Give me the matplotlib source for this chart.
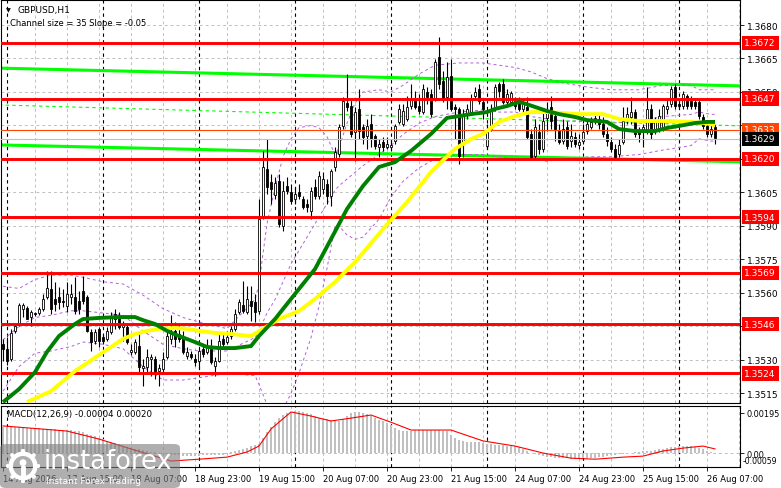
import matplotlib
matplotlib.use("Agg")
import matplotlib.pyplot as plt
import matplotlib.transforms as mtransforms
from matplotlib.patches import FancyBboxPatch, Circle
import numpy as np

plt.rcParams["font.family"] = "DejaVu Sans"

# GBPUSD H1 candles, one value per bar (bar 0 = 14 Aug 23:00)
opens = [
    1.35372, 1.35349, 1.35304, 1.35430, 1.35461, 1.35528, 1.35533, 1.35492, 1.35510, 1.35510,
    1.35528, 1.35582, 1.35618, 1.35573, 1.35582, 1.35564, 1.35542, 1.35582, 1.35582, 1.35564,
    1.35609, 1.35582, 1.35425, 1.35385, 1.35439, 1.35403, 1.35394, 1.35425, 1.35506, 1.35488,
    1.35448, 1.35448, 1.35336, 1.35336, 1.35363, 1.35264, 1.35268, 1.35304, 1.35304, 1.35251,
    1.35260, 1.35313, 1.35394, 1.35430, 1.35416, 1.35403, 1.35318, 1.35327, 1.35304, 1.35295,
    1.35349, 1.35336, 1.35349, 1.35273, 1.35295, 1.35394, 1.35381, 1.35407, 1.35439, 1.35515,
    1.35546, 1.35515, 1.35564, 1.35560, 1.35519, 1.35945, 1.36155, 1.36097, 1.36039, 1.36101,
    1.35900, 1.36079, 1.36052, 1.36021, 1.36052, 1.36021, 1.35998, 1.35967, 1.36075, 1.36034,
    1.36066, 1.36088, 1.36034, 1.36164, 1.36222, 1.36348, 1.36451, 1.36437, 1.36321, 1.36424,
    1.36343, 1.36303, 1.36357, 1.36303, 1.36254, 1.36276, 1.36254, 1.36254, 1.36281, 1.36366,
    1.36357, 1.36379, 1.36437, 1.36469, 1.36437, 1.36410, 1.36500, 1.36491, 1.36469, 1.36657,
    1.36549, 1.36478, 1.36572, 1.36433, 1.36424, 1.36276, 1.36401, 1.36410, 1.36482, 1.36513,
    1.36455, 1.36258, 1.36334, 1.36424, 1.36536, 1.36536, 1.36455, 1.36455, 1.36460, 1.36455,
    1.36424, 1.36433, 1.36312, 1.36213, 1.36321, 1.36245, 1.36384, 1.36433, 1.36392, 1.36325,
    1.36281, 1.36343, 1.36281, 1.36298, 1.36263, 1.36281, 1.36325, 1.36343, 1.36370, 1.36379,
    1.36357, 1.36312, 1.36276, 1.36245, 1.36222, 1.36276, 1.36379, 1.36388, 1.36410, 1.36325,
    1.36321, 1.36321, 1.36424, 1.36334, 1.36334, 1.36334, 1.36424, 1.36446, 1.36522, 1.36446,
    1.36437, 1.36482, 1.36460, 1.36455, 1.36455, 1.36388, 1.36348, 1.36312, 1.36343,
]
highs = [
    1.35394, 1.35403, 1.35439, 1.35461, 1.35555, 1.35555, 1.35542, 1.35524, 1.35515, 1.35537,
    1.35595, 1.35698, 1.35698, 1.35649, 1.35627, 1.35618, 1.35649, 1.35640, 1.35672, 1.35609,
    1.35676, 1.35591, 1.35439, 1.35439, 1.35448, 1.35416, 1.35448, 1.35515, 1.35528, 1.35515,
    1.35474, 1.35461, 1.35372, 1.35394, 1.35416, 1.35304, 1.35349, 1.35327, 1.35318, 1.35282,
    1.35336, 1.35425, 1.35501, 1.35470, 1.35461, 1.35430, 1.35358, 1.35340, 1.35327, 1.35349,
    1.35372, 1.35394, 1.35394, 1.35313, 1.35425, 1.35416, 1.35430, 1.35452, 1.35528, 1.35573,
    1.35654, 1.35631, 1.35631, 1.35595, 1.36021, 1.36236, 1.36289, 1.36133, 1.36119, 1.36133,
    1.36101, 1.36119, 1.36088, 1.36075, 1.36088, 1.36034, 1.36021, 1.36075, 1.36110, 1.36146,
    1.36142, 1.36110, 1.36155, 1.36254, 1.36357, 1.36478, 1.36581, 1.36469, 1.36433, 1.36513,
    1.36357, 1.36379, 1.36401, 1.36312, 1.36289, 1.36298, 1.36298, 1.36289, 1.36357, 1.36446,
    1.36446, 1.36482, 1.36536, 1.36504, 1.36491, 1.36536, 1.36522, 1.36513, 1.36648, 1.36746,
    1.36594, 1.36634, 1.36648, 1.36446, 1.36433, 1.36424, 1.36446, 1.36491, 1.36522, 1.36536,
    1.36469, 1.36357, 1.36446, 1.36536, 1.36545, 1.36558, 1.36513, 1.36504, 1.36478, 1.36478,
    1.36469, 1.36478, 1.36334, 1.36379, 1.36357, 1.36415, 1.36455, 1.36482, 1.36415, 1.36357,
    1.36379, 1.36370, 1.36357, 1.36321, 1.36312, 1.36357, 1.36379, 1.36388, 1.36401, 1.36401,
    1.36388, 1.36343, 1.36298, 1.36267, 1.36289, 1.36433, 1.36433, 1.36478, 1.36424, 1.36343,
    1.36357, 1.36522, 1.36446, 1.36388, 1.36424, 1.36446, 1.36469, 1.36527, 1.36536, 1.36469,
    1.36504, 1.36491, 1.36482, 1.36469, 1.36469, 1.36401, 1.36357, 1.36357, 1.36357,
]
lows = [
    1.35295, 1.35277, 1.35295, 1.35421, 1.35452, 1.35492, 1.35483, 1.35452, 1.35497, 1.35501,
    1.35519, 1.35573, 1.35506, 1.35519, 1.35528, 1.35537, 1.35515, 1.35551, 1.35506, 1.35506,
    1.35551, 1.35425, 1.35340, 1.35372, 1.35358, 1.35372, 1.35385, 1.35416, 1.35439, 1.35439,
    1.35385, 1.35372, 1.35322, 1.35327, 1.35246, 1.35183, 1.35237, 1.35228, 1.35215, 1.35183,
    1.35237, 1.35304, 1.35372, 1.35358, 1.35381, 1.35327, 1.35304, 1.35304, 1.35273, 1.35260,
    1.35313, 1.35327, 1.35282, 1.35228, 1.35291, 1.35349, 1.35372, 1.35394, 1.35430, 1.35506,
    1.35510, 1.35506, 1.35474, 1.35470, 1.35506, 1.35931, 1.36043, 1.35998, 1.36021, 1.35895,
    1.35878, 1.36043, 1.35998, 1.35998, 1.36021, 1.35976, 1.35963, 1.35931, 1.36021, 1.36021,
    1.36043, 1.35998, 1.35989, 1.36146, 1.36209, 1.36334, 1.36415, 1.36298, 1.36191, 1.36289,
    1.36267, 1.36245, 1.36254, 1.36245, 1.36209, 1.36236, 1.36245, 1.36236, 1.36267, 1.36357,
    1.36348, 1.36370, 1.36424, 1.36424, 1.36401, 1.36401, 1.36446, 1.36388, 1.36460, 1.36513,
    1.36455, 1.36424, 1.36415, 1.36289, 1.36178, 1.36209, 1.36379, 1.36401, 1.36469, 1.36446,
    1.36379, 1.36245, 1.36325, 1.36415, 1.36478, 1.36446, 1.36433, 1.36442, 1.36424, 1.36415,
    1.36410, 1.36289, 1.36200, 1.36200, 1.36222, 1.36231, 1.36325, 1.36334, 1.36281, 1.36267,
    1.36267, 1.36245, 1.36254, 1.36254, 1.36245, 1.36267, 1.36312, 1.36334, 1.36357, 1.36334,
    1.36298, 1.36258, 1.36231, 1.36200, 1.36209, 1.36267, 1.36357, 1.36357, 1.36298, 1.36276,
    1.36254, 1.36312, 1.36289, 1.36312, 1.36321, 1.36325, 1.36401, 1.36433, 1.36424, 1.36424,
    1.36424, 1.36424, 1.36424, 1.36424, 1.36379, 1.36334, 1.36298, 1.36298, 1.36267,
]
closes = [
    1.35349, 1.35295, 1.35421, 1.35452, 1.35546, 1.35546, 1.35483, 1.35515, 1.35506, 1.35528,
    1.35573, 1.35622, 1.35528, 1.35551, 1.35560, 1.35560, 1.35595, 1.35595, 1.35519, 1.35528,
    1.35564, 1.35430, 1.35381, 1.35425, 1.35385, 1.35385, 1.35430, 1.35492, 1.35483, 1.35448,
    1.35457, 1.35381, 1.35345, 1.35381, 1.35268, 1.35273, 1.35313, 1.35313, 1.35237, 1.35264,
    1.35304, 1.35407, 1.35416, 1.35394, 1.35394, 1.35336, 1.35336, 1.35313, 1.35291, 1.35340,
    1.35327, 1.35358, 1.35291, 1.35295, 1.35385, 1.35372, 1.35403, 1.35439, 1.35506, 1.35560,
    1.35519, 1.35573, 1.35542, 1.35515, 1.35931, 1.36164, 1.36075, 1.36066, 1.36092, 1.35909,
    1.36057, 1.36057, 1.36012, 1.36043, 1.36034, 1.35985, 1.35985, 1.36057, 1.36034, 1.36124,
    1.36110, 1.36034, 1.36146, 1.36231, 1.36343, 1.36460, 1.36433, 1.36312, 1.36410, 1.36325,
    1.36298, 1.36348, 1.36289, 1.36258, 1.36267, 1.36254, 1.36267, 1.36263, 1.36348, 1.36424,
    1.36415, 1.36433, 1.36469, 1.36433, 1.36415, 1.36513, 1.36478, 1.36401, 1.36634, 1.36536,
    1.36469, 1.36567, 1.36424, 1.36424, 1.36213, 1.36401, 1.36424, 1.36469, 1.36500, 1.36460,
    1.36424, 1.36321, 1.36424, 1.36522, 1.36504, 1.36455, 1.36491, 1.36495, 1.36437, 1.36424,
    1.36446, 1.36298, 1.36209, 1.36343, 1.36245, 1.36370, 1.36410, 1.36370, 1.36334, 1.36276,
    1.36334, 1.36258, 1.36303, 1.36267, 1.36276, 1.36321, 1.36357, 1.36366, 1.36384, 1.36357,
    1.36312, 1.36281, 1.36245, 1.36209, 1.36263, 1.36370, 1.36401, 1.36410, 1.36312, 1.36312,
    1.36343, 1.36424, 1.36312, 1.36370, 1.36392, 1.36437, 1.36437, 1.36513, 1.36437, 1.36437,
    1.36491, 1.36437, 1.36437, 1.36437, 1.36392, 1.36348, 1.36312, 1.36334, 1.36294,
]

# time axis
label_idx = [0, 16, 32, 48, 64, 80, 96, 112, 128, 144, 160, 176]
time_labels = ["14 Aug 2026", "17 Aug 15:00", "18 Aug 07:00", "18 Aug 23:00",
               "19 Aug 15:00", "20 Aug 07:00", "20 Aug 23:00", "21 Aug 15:00",
               "24 Aug 07:00", "24 Aug 23:00", "25 Aug 15:00", "26 Aug 07:00"]
day_sep_idx = [1, 25, 49, 73, 97, 121, 145, 169]

# levels
red_levels = [1.3672, 1.3647, 1.3620, 1.3594, 1.3569, 1.3546, 1.3524]
ask_price = 1.3633
bid_price = 1.3629
price_ticks = [1.3515, 1.3530, 1.3545, 1.3560, 1.3575, 1.3590,
               1.3605, 1.3620, 1.3635, 1.3650, 1.3665, 1.3680]

# moving averages (read at sample bars)
ma_green_idx = [0, 4, 8, 11, 14, 18, 20, 24, 29, 33, 35, 38, 41, 44, 48, 51, 54, 58, 62, 64,
                68, 74, 78, 82, 86, 90, 94, 98, 102, 107, 111, 114, 117, 121, 123, 126, 129, 130,
                133, 136, 139, 143, 146, 151, 154, 158, 163, 166, 169, 173, 176, 178]
ma_green = [1.35111, 1.35169, 1.35245, 1.35336, 1.35407, 1.35461, 1.35483, 1.35488, 1.35492, 1.35492,
            1.35478, 1.35461, 1.35430, 1.35407, 1.35380, 1.35358, 1.35353, 1.35353, 1.35362, 1.35407,
            1.35483, 1.35618, 1.35707, 1.35841, 1.35976, 1.36079, 1.36164, 1.36186, 1.36236, 1.36312,
            1.36384, 1.36392, 1.36401, 1.36410, 1.36424, 1.36437, 1.36455, 1.36451, 1.36433, 1.36415,
            1.36401, 1.36388, 1.36374, 1.36366, 1.36334, 1.36325, 1.36325, 1.36339, 1.36348, 1.36361,
            1.36366, 1.36366]
ma_yellow_idx = [6, 12, 18, 24, 30, 33, 36, 39, 43, 46, 49, 53, 57, 62, 65, 69, 74, 78, 83, 88,
                 95, 101, 107, 113, 117, 120, 124, 128, 132, 136, 144, 150, 154, 159, 166, 172, 177, 178]
ma_yellow = [1.35111, 1.35160, 1.35250, 1.35322, 1.35394, 1.35416, 1.35430, 1.35439, 1.35443, 1.35439,
             1.35430, 1.35421, 1.35416, 1.35407, 1.35439, 1.35483, 1.35519, 1.35573, 1.35649, 1.35738,
             1.35886, 1.36007, 1.36142, 1.36245, 1.36289, 1.36312, 1.36366, 1.36392, 1.36410, 1.36410,
             1.36401, 1.36401, 1.36379, 1.36370, 1.36370, 1.36366, 1.36357, 1.36348]

# bollinger bands (read at sample bars)
bb_idx = [0, 4, 8, 12, 17, 20, 25, 30, 35, 40, 45, 49, 56, 63, 64, 66, 68, 70, 72, 74,
          77, 79, 81, 83, 84, 86, 88, 90, 94, 97, 100, 104, 108, 114, 120, 124, 128, 132, 136, 140,
          147, 152, 159, 165, 172, 174, 177, 178]
bb_upper = [1.3563, 1.3562, 1.3566, 1.3568, 1.3568, 1.3567, 1.3565, 1.3564, 1.3559, 1.3553,
            1.3549, 1.3547, 1.3544, 1.3557, 1.3564, 1.3591, 1.3607, 1.3621, 1.3629, 1.3634,
            1.3635, 1.3634, 1.3630, 1.3622, 1.3625, 1.3636, 1.3645, 1.3650, 1.3651, 1.3650,
            1.3653, 1.3658, 1.3662, 1.3663, 1.3663, 1.3662, 1.3661, 1.3659, 1.3656, 1.3654,
            1.3652, 1.3651, 1.3651, 1.3653, 1.3653, 1.3651, 1.3651, 1.3651]
bb_middle = [1.3539, 1.3545, 1.3549, 1.3550, 1.3552, 1.3552, 1.3551, 1.3550, 1.3543, 1.3537,
             1.3535, 1.3534, 1.3534, 1.3540, 1.3543, 1.3551, 1.3557, 1.3565, 1.3573, 1.3579,
             1.3588, 1.3594, 1.3600, 1.3606, 1.3608, 1.3611, 1.3614, 1.3617, 1.3622, 1.3626,
             1.3631, 1.3636, 1.3639, 1.3641, 1.3642, 1.3641, 1.3641, 1.3639, 1.3638, 1.3637,
             1.3637, 1.3636, 1.3637, 1.3639, 1.3640, 1.3641, 1.3640, 1.3640]
bb_lower = [1.3516, 1.3527, 1.3533, 1.3534, 1.3536, 1.3538, 1.3537, 1.3535, 1.3527, 1.3521,
            1.3521, 1.3522, 1.3524, 1.3523, 1.3519, 1.3510, 1.3508, 1.3508, 1.3515, 1.3524,
            1.3540, 1.3554, 1.3571, 1.3590, 1.3590, 1.3586, 1.3584, 1.3585, 1.3593, 1.3603,
            1.3610, 1.3616, 1.3620, 1.3622, 1.3622, 1.3621, 1.3620, 1.3620, 1.3619, 1.3620,
            1.3621, 1.3621, 1.3622, 1.3624, 1.3626, 1.3629, 1.3628, 1.3628]

# regression channel end points
channel_idx = [-1, 185]
channel_upper = [1.36607, 1.36527]
channel_middle = [1.36442, 1.36348]
channel_lower = [1.36263, 1.36187]

# MACD(12,26,9), in units of 1e-5
macd_hist = np.array([
    127, 128, 128, 127, 126, 125, 124, 123, 122, 120,
    118, 117, 116, 115, 114, 113, 112, 110, 108, 105,
    100, 95, 88, 82, 75, 67, 60, 54, 48, 42,
    36, 30, 26, 22, 18, 14, 10, 6, 3, 0,
    -2, -3, -8, -10, -12, -14, -15, -15, -14, -13,
    -12, -12, -11, -10, -9, -8, -3, 3, 10, 15,
    20, 25, 32, 38, 45, 75, 100, 125, 150, 170,
    185, 195, 200, 205, 205, 200, 195, 188, 180, 172,
    168, 165, 160, 158, 156, 165, 180, 195, 200, 198,
    195, 190, 182, 172, 163, 155, 148, 135, 122, 112,
    108, 107, 108, 110, 112, 112, 113, 112, 112, 110,
    108, 105, 90, 75, 65, 58, 54, 52, 52, 53,
    50, 45, 42, 40, 40, 38, 36, 34, 32, 28,
    22, 12, 2, -6, -12, -16, -18, -20, -22, -24,
    -25, -26, -27, -27, -27, -26, -25, -24, -22, -20,
    -18, -15, -12, -9, -6, -3, 0, 2, 4, 6,
    8, 10, 12, 15, 18, 22, 25, 28, 30, 32,
    33, 34, 33, 30, 26, 20, 12, 4, -4,
]) * 1e-5
signal_idx = [0, 16, 24, 32, 42, 49, 56, 61, 64, 67, 72, 77, 82, 87, 92, 97, 102, 112, 120,
              128, 135, 142, 148, 155, 160, 165, 170, 175, 178]
signal_vals = np.array([132, 107, 68, 20, -39, -30, -20, 5, 34, 117, 200, 180, 156, 170, 185,
                        150, 112, 112, 59, 34, 0, -25, -30, -20, -15, 10, 24, 34, 20]) * 1e-5

W, H = 781, 489
fig = plt.figure(figsize=(W / 100, H / 100), dpi=100)
fig.patch.set_facecolor("white")


def fx(px):
    return px / W


def fy(py):
    return 1 - py / H


ax = fig.add_axes([fx(1), fy(404), fx(740) - fx(1), fy(1) - fy(404)])
ax2 = fig.add_axes([fx(1), fy(468), fx(740) - fx(1), fy(407) - fy(468)])

dash = (0, (3, 3))
grid_c = "#c0c0c0"

# grid and day separators
for a in (ax, ax2):
    for gx in range(8, 185, 8):
        a.axvline(gx, color=grid_c, lw=0.7, ls=dash, zorder=0)
    for sx in day_sep_idx:
        a.axvline(sx, color="black", lw=0.8, ls=dash, zorder=0.5)
    for s in a.spines.values():
        s.set_linewidth(0.8)
for p in price_ticks:
    ax.axhline(p, color=grid_c, lw=0.7, ls=dash, zorder=0)

# channel
ax.plot(channel_idx, channel_upper, color="#00ff00", lw=2.2, zorder=1)
ax.plot(channel_idx, channel_lower, color="#00ff00", lw=2.2, zorder=1)
ax.plot(channel_idx, channel_middle, color="#00ff00", lw=0.8, ls=dash, zorder=1)

# bollinger bands
for band in (bb_upper, bb_middle, bb_lower):
    ax.plot(bb_idx, band, color="#b45ee0", lw=0.7, ls=dash, zorder=1.5)

# candles
idx = np.arange(len(closes))
o = np.array(opens)
c = np.array(closes)
ax.vlines(idx, lows, highs, color="black", lw=0.8, zorder=2)
body_fc = ["black" if cc < oo else "white" for oo, cc in zip(o, c)]
ax.bar(idx, np.abs(c - o), bottom=np.minimum(o, c), width=0.7,
       color=body_fc, edgecolor="black", linewidth=0.6, zorder=2.1)

# levels
for lv in red_levels:
    ax.axhline(lv, color="#ff0000", lw=2.1, zorder=3)
ax.axhline(ask_price, color="#ff4500", lw=0.8, zorder=3)
ax.axhline(bid_price, color="#c0c0c0", lw=0.8, zorder=3)

# moving averages
ax.plot(ma_yellow_idx, ma_yellow, color="#ffff00", lw=2.8, zorder=4, solid_capstyle="butt")
ax.plot(ma_green_idx, ma_green, color="#008000", lw=2.8, zorder=4.1, solid_capstyle="butt")

ax.set_xlim(-0.5, 184.25)
ax.set_ylim(1.35107, 1.36912)
ax.set_xticks([])
ax.yaxis.tick_right()
ax.set_yticks(price_ticks)
ax.set_yticklabels([f"{p:.4f}" for p in price_ticks])
ax.tick_params(axis="y", length=3, width=0.6, labelsize=6.5, pad=2)

# price labels on the right
trans = mtransforms.blended_transform_factory(ax.transAxes, ax.transData)
for lv in red_levels:
    ax.text(1.006, lv, f"{lv:.4f}", transform=trans, ha="left", va="center",
            color="white", fontsize=6.5, zorder=6,
            bbox=dict(boxstyle="square,pad=0.3", fc="#ff0000", ec="none"))
ax.text(1.006, ask_price, f"{ask_price:.4f}", transform=trans, ha="left", va="center",
        color="white", fontsize=6.5, zorder=6,
        bbox=dict(boxstyle="square,pad=0.3", fc="#ff4500", ec="none"))
ax.text(1.006, bid_price, f"{bid_price:.4f}", transform=trans, ha="left", va="center",
        color="white", fontsize=6.5, zorder=7,
        bbox=dict(boxstyle="square,pad=0.3", fc="black", ec="none"))

# MACD panel
ax2.axhline(0, color=grid_c, lw=0.7, ls=dash, zorder=0)
ax2.bar(idx, macd_hist, width=0.55, color="#c0c0c0", zorder=1)
ax2.plot(signal_idx, signal_vals, color="#ff0000", lw=0.8, zorder=2)
ax2.set_xlim(-0.5, 184.25)
ax2.set_ylim(-0.00068, 0.00229)
ax2.yaxis.tick_right()
ax2.set_yticks([0.00195, 0.0])
ax2.set_yticklabels(["0.00195", "0.00"])
ax2.tick_params(axis="y", length=3, width=0.6, labelsize=5.9, pad=2)
ax2.text(1.003, -0.00036, "-0.00059", transform=mtransforms.blended_transform_factory(
    ax2.transAxes, ax2.transData), ha="left", va="center", fontsize=5.6)
ax2.set_xticks(label_idx)
ax2.set_xticklabels(time_labels, ha="left")
ax2.tick_params(axis="x", length=3, width=0.6, labelsize=6, pad=2)
ax2.text(0.008, 0.87, "MACD(12,26,9) -0.00004 0.00020", transform=ax2.transAxes,
         fontsize=6.2, va="center")

# header texts
fig.text(fx(6), fy(10.5), "\u25bc", fontsize=4.5, va="center")
fig.text(fx(17), fy(10.5), "GBPUSD,H1", fontsize=6.5, va="center")
fig.text(fx(10), fy(23.5), "Channel size = 35 Slope = -0.05", fontsize=6, va="center")

# watermark
wm = FancyBboxPatch((fx(0), fy(489)), fx(180), fy(445) - fy(489),
                    boxstyle="round,pad=0,rounding_size=0.008", transform=fig.transFigure,
                    fc="#7f7f7f", ec="none", alpha=0.62, zorder=10)
fig.add_artist(wm)
logo = fig.add_axes([fx(6), fy(485), fx(34), fy(449) - fy(485)], zorder=11)
logo.set_xlim(-1, 1)
logo.set_ylim(-1, 1)
logo.set_aspect("equal")
logo.axis("off")
logo.add_patch(Circle((0, 0), 0.72, fill=False, ec="white", lw=3.2))
logo.add_patch(Circle((0, 0.2), 0.2, fc="white", ec="none"))
logo.plot([0, 0], [-0.05, -0.5], color="white", lw=3.5, solid_capstyle="round")
for ang in np.linspace(0, 2 * np.pi, 9)[:-1]:
    logo.add_patch(Circle((0.9 * np.cos(ang), 0.9 * np.sin(ang)), 0.12, fc="white", ec="none"))
fig.text(fx(44), fy(462), "instaforex", color="white", fontsize=18.5, va="center", ha="left",
         zorder=12)
fig.text(fx(46), fy(482), "Instant Forex Trading", color="white", fontsize=6.5,
         va="center", ha="left", zorder=12)

fig.savefig("out.png", dpi=100)
